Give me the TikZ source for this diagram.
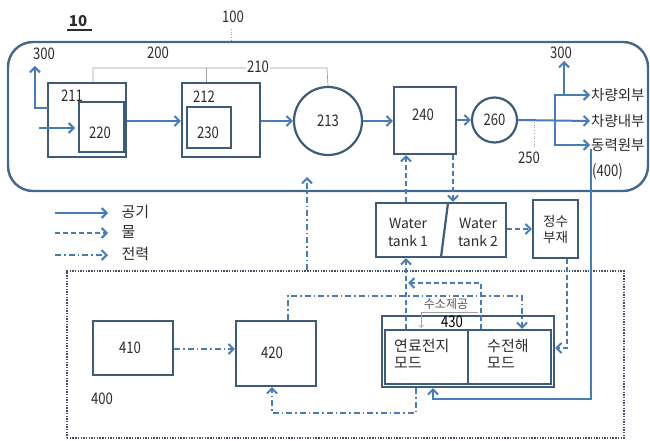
\documentclass[tikz,border=0pt]{standalone}
\usepackage{fontspec}
\setmainfont{Noto Sans CJK KR}
\newfontfamily\numfont[FakeStretch=0.82]{Noto Sans CJK KR}
\usetikzlibrary{arrows.meta}
\definecolor{boxc}{RGB}{62,92,122}
\definecolor{outc}{RGB}{66,104,142}
\definecolor{arrc}{RGB}{72,124,182}
\definecolor{txt}{RGB}{45,45,45}
\definecolor{thinc}{RGB}{160,160,160}
\definecolor{dotc}{RGB}{70,80,100}
\begin{document}
\begin{tikzpicture}[x=1pt,y=-1pt,
  font=\numfont\fontsize{16}{18}\selectfont, text=txt,
  box/.style={draw=boxc, line width=2.2pt, inner sep=0pt},
  arr/.style={draw=arrc, line width=2pt, -{Straight Barb[length=5pt,width=10pt]}},
  water/.style={arr, dash pattern=on 5pt off 3pt},
  power/.style={arr, dash pattern=on 6pt off 3pt on 1.5pt off 3pt},
  thinline/.style={draw=thinc, line width=0.7pt},
  kor/.style={font=\rmfamily\fontsize{14.5}{17}\selectfont}]
\useasboundingbox (0,0) rectangle (650,441);
\fill[white] (0,0) rectangle (650,441);

% outer frame 100
\node[draw=outc, line width=2.4pt, rounded corners=25pt, minimum width=640pt, minimum height=149pt] (outer) at (328,116.5) {};
% dotted frame 400
\node[draw=dotc, line width=1.4pt, dash pattern=on 1.4pt off 1.3pt, minimum width=557pt, minimum height=167pt, inner sep=0pt] (frame400) at (345.5,354.5) {};

% title
\node[font=\rmfamily\fontsize{15}{16}\selectfont\bfseries] (n10) at (78,21) {10};
\coordinate (u1) at (67,30);
\coordinate (u2) at (92,30);
\draw[line width=1.1pt, txt] (u1) -- (u2);

% boxes
\node[box, minimum width=78pt, minimum height=74pt] (b211) at (87,120) {};
\node[box, minimum width=45pt, minimum height=50pt] (b220) at (101.5,127) {};
\node[box, minimum width=78pt, minimum height=74pt] (b212) at (221,120) {};
\node[box, minimum width=44pt, minimum height=41pt] (b230) at (209,127.5) {};
\node[box, circle, minimum size=68pt] (c213) at (328,121) {213};
\node[box, minimum width=62pt, minimum height=67pt] (b240) at (425,120.5) {};
\node[box, circle, minimum size=45pt] (c260) at (494.5,120) {260};

\node (t211) at (72,96) {211};
\node (t220) at (100,133) {220};
\node (t212) at (204,97) {212};
\node (t230) at (208,133) {230};
\node (t240) at (423,115) {240};

% labels 100, 200, 210, 250, 300
\node (t100) at (233,17) {100};
\coordinate (d100a) at (231,29);
\coordinate (d100b) at (231,42);
\draw[thinline, dotted, line width=0.8pt] (d100a) -- (d100b);
\node (t200) at (158,53) {200};
\coordinate (br1) at (93,68);
\coordinate (br2) at (327,68);
\coordinate (br3) at (206,68);
\draw[thinline] (b211.north -| br1) -- (br1) -- (br2) -- (c213.north);
\draw[thinline] (br3) -- (b212.north -| br3);
\node[fill=white, inner sep=1pt] (t210) at (258,67) {210};
\coordinate (d250a) at (534,122);
\coordinate (d250b) at (534,147);
\draw[thinline, dotted, line width=0.8pt] (d250a) -- (d250b);
\node (t250) at (529,158) {250};
\node (t300a) at (44,54) {300};
\node (t300b) at (561,53) {300};

% air flow
\coordinate (in0) at (39,128);
\coordinate (in1) at (75,128);
\draw[arr] (in0) -- (in1);
\coordinate (l300a) at (48,108);
\coordinate (l300b) at (35,108);
\draw[arr] (l300a) -- (l300b) -- (35,66);
\draw[arr] (b211.east |- 0,121) -- (b212.west |- 0,121);
\draw[arr] (b212.east |- 0,121) -- (c213.west);
\draw[arr] (c213.east) -- (b240.west |- c213.east);
\draw[arr] (b240.east |- c260.west) -- (c260.west);

% outputs
\node[kor, anchor=west, inner sep=1pt] (o1) at (590,95) {차량외부};
\node[kor, anchor=west, inner sep=1pt] (o2) at (590,121) {차량내부};
\node[kor, anchor=west, inner sep=1pt] (o3) at (590,145) {동력원부};
\node[anchor=west, inner sep=1pt] (o4) at (591,172) {(400)};
\coordinate (j1) at (555,95);
\coordinate (j2) at (555,145);
\coordinate (j3) at (564,95);
\draw[arr] (c260.east) -- (o2.west);
\draw[arr] (j2) -- (j1) -- (o1.west);
\draw[arr] (j1) -- (j2) -- (o3.west);
\draw[arr] (j3) -- (564,61);

% water tanks
\node[box, minimum width=130pt, minimum height=54pt] (tank) at (441,230) {};
\coordinate (div1) at (448,203);
\coordinate (div2) at (441,257);
\draw[boxc, line width=2.2pt] (div1) -- (div2);
\node[align=center, font=\rmfamily\fontsize{14}{18}\selectfont] (tk1) at (408,232) {Water\\tank 1};
\node[align=center, font=\rmfamily\fontsize{14}{18}\selectfont] (tk2) at (478,232) {Water\\tank 2};
\node[box, minimum width=45pt, minimum height=58pt, align=center, font=\rmfamily\fontsize{13.5}{16}\selectfont] (pur) at (555.5,229) {정수\\부재};

% 400 components
\node[box, minimum width=80pt, minimum height=54pt] (b410) at (133,348) {};
\node[box, minimum width=80pt, minimum height=65pt] (b420) at (276,353.5) {};
\node (t410) at (130,348) {410};
\node (t420) at (272,353) {420};
\node (t400) at (102,399) {400};
\node[box, minimum width=172pt, minimum height=71pt] (b430) at (468,351.5) {};
\node[box, minimum width=83pt, minimum height=54pt] (fc) at (426.5,357) {};
\node[box, minimum width=83pt, minimum height=54pt] (el) at (509.5,357) {};
\node[text=black] (t430) at (452,322) {430};
\node[kor, font=\rmfamily\fontsize{15}{17}\selectfont, anchor=north west, align=left, inner sep=0pt] (tfc) at (394,339) {연료전지\\모드};
\node[kor, font=\rmfamily\fontsize{15}{17}\selectfont, anchor=north west, align=left, inner sep=0pt] (tel) at (487,339) {수전해\\모드};

% hydrogen note
\node[font=\rmfamily\fontsize{12}{13}\selectfont, text=txt!80] (h2) at (446,304) {수소제공};
\coordinate (h2a) at (478,312);
\coordinate (h2b) at (421,312);
\coordinate (h2c) at (421,328);
\draw[thinline, -{Straight Barb[length=2.5pt,width=5pt]}] (h2a) -- (h2b) -- (h2c);

% water flows
\draw[water] (tank.north -| 406,0) -- (b240.south -| 406,0);
\draw[water] (b240.south -| 453,0) -- (tank.north -| 453,0);
\draw[water] (tank.east |- pur.west) -- (pur.west);
\coordinate (w1) at (567,348);
\draw[water] (pur.south -| w1) -- (w1) -- (b430.east |- w1);
\draw[water] (fc.north -| 406,0) -- (tank.south -| 406,0);
\coordinate (w2) at (481,283);
\draw[water] (el.north -| w2) -- (w2) -- (408,283);

% power flows
\draw[power] (b410.east |- 0,349) -- (b420.west |- 0,349);
\coordinate (p1) at (288,296);
\coordinate (p2) at (522,296);
\draw[power] (b420.north -| p1) -- (p1) -- (p2) -- (el.north -| p2);
\coordinate (p3) at (416,413);
\coordinate (p4) at (272,413);
\draw[power] (b430.south -| p3) -- (p3) -- (p4) -- (b420.south -| p4);
\coordinate (p5) at (307,177);
\draw[power] (frame400.north -| p5) -- (p5);

% power supply from 동력원부
\coordinate (s0) at (591,149);
\coordinate (s1) at (591,399);
\coordinate (s2) at (433,399);
\draw[arr] (s0) -- (s1) -- (s2) -- (b430.south -| s2);

% legend
\coordinate (lg1a) at (55,213);
\coordinate (lg1b) at (108,213);
\coordinate (lg2a) at (55,233);
\coordinate (lg2b) at (108,233);
\coordinate (lg3a) at (55,255);
\coordinate (lg3b) at (108,255);
\draw[arr] (lg1a) -- (lg1b);
\draw[water] (lg2a) -- (lg2b);
\draw[power] (lg3a) -- (lg3b);
\node[kor, font=\rmfamily\fontsize{15}{17}\selectfont, anchor=west] (lt1) at (118,212) {공기};
\node[kor, font=\rmfamily\fontsize{15}{17}\selectfont, anchor=west] (lt2) at (118,232) {물};
\node[kor, font=\rmfamily\fontsize{15}{17}\selectfont, anchor=west] (lt3) at (118,254) {전력};
\end{tikzpicture}
\end{document}
